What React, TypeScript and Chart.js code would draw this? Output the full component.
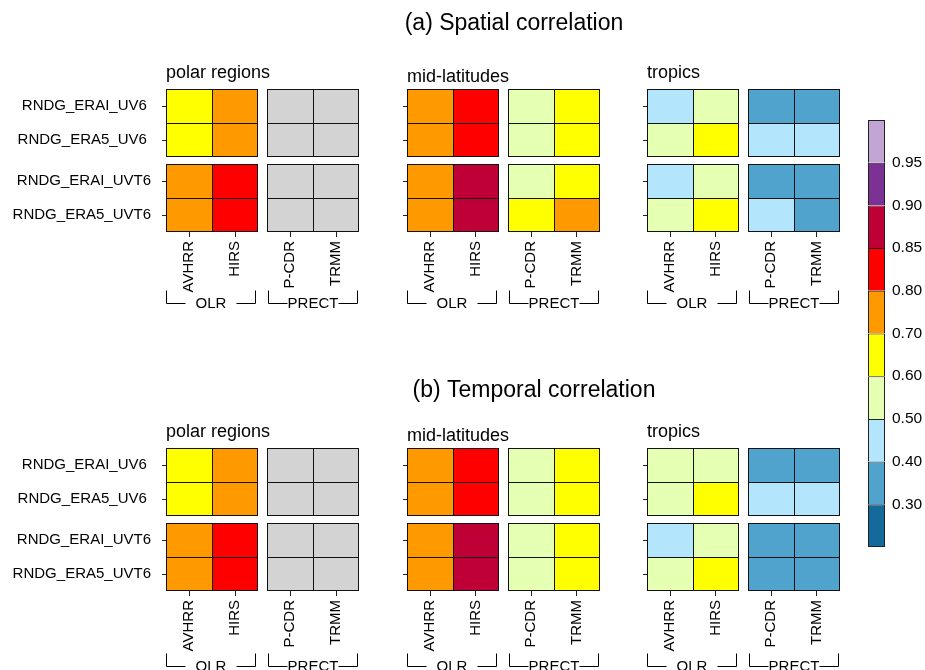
import React, { useEffect, useRef } from 'react';
import { Chart, registerables } from 'chart.js';

Chart.register(...registerables);

const FONT = "'Liberation Sans', Arial, Helvetica, sans-serif";

// ---------------- data ----------------
const rowLabels = ['RNDG_ERAI_UV6 ', 'RNDG_ERA5_UV6 ', 'RNDG_ERAI_UVT6', 'RNDG_ERA5_UVT6'];
const colLabels = ['AVHRR', 'HIRS', 'P-CDR', 'TRMM'];
const groupLabels = ['OLR', 'PRECT'];
const groupColumns = [[0, 1], [2, 3]];
const regionNames = ['polar regions', 'mid-latitudes', 'tropics'];
const figureTitles = ['(a) Spatial correlation', '(b) Temporal correlation'];

const colorBreaks = [0.3, 0.4, 0.5, 0.6, 0.7, 0.8, 0.85, 0.9, 0.95];
const colorPalette = ['#146b9b', '#4fa3cc', '#b3e5fd', '#e5ffb3', '#ffff00', '#ff9900', '#ff0000', '#be0037', '#7b3294', '#c2a5d4'];
const missingColor = '#d3d3d3';

const spatialPolar = [
  [0.66, 0.76, null, null],
  [0.65, 0.75, null, null],
  [0.74, 0.82, null, null],
  [0.73, 0.82, null, null],
];
const spatialMid = [
  [0.76, 0.83, 0.56, 0.65],
  [0.75, 0.83, 0.55, 0.64],
  [0.75, 0.87, 0.56, 0.65],
  [0.74, 0.87, 0.63, 0.71],
];
const spatialTropics = [
  [0.46, 0.55, 0.36, 0.37],
  [0.54, 0.63, 0.44, 0.44],
  [0.46, 0.55, 0.37, 0.38],
  [0.54, 0.63, 0.45, 0.39],
];
const temporalPolar = [
  [0.64, 0.74, null, null],
  [0.63, 0.73, null, null],
  [0.73, 0.81, null, null],
  [0.72, 0.81, null, null],
];
const temporalMid = [
  [0.75, 0.82, 0.55, 0.63],
  [0.75, 0.82, 0.55, 0.63],
  [0.74, 0.86, 0.56, 0.64],
  [0.74, 0.86, 0.56, 0.64],
];
const temporalTropics = [
  [0.52, 0.54, 0.35, 0.36],
  [0.53, 0.61, 0.44, 0.43],
  [0.46, 0.54, 0.36, 0.37],
  [0.52, 0.61, 0.37, 0.38],
];

const figureData = [
  [spatialPolar, spatialMid, spatialTropics],
  [temporalPolar, temporalMid, temporalTropics],
];

// ---------------- layout ----------------
const CELL_X = 46;
const GAP_X = 9;
const CELL_Y = 34;
const GAP_Y = 7;
const GX = GAP_X / CELL_X;
const GY = GAP_Y / CELL_Y;
const X_MAX = 4 + GX;
const Y_MAX = 4 + GY;
const AREA_W = 4 * CELL_X + GAP_X;
const AREA_H = 4 * CELL_Y + GAP_Y;
const AREA_LEFTS = [166, 407, 647];
const AREA_TOPS = [89, 448];
const PAD_TOP = 89;
const X_AXIS_H = 85;
const SUBTITLE_DROP = [11.5, 7, 11.5];
const TITLE_CX = [514, 534];
const TITLE_BASE = [29.5, 396.5];
const BRACKET_TOP = [58, 62];
const BRACKET_LINE = [71, 75];

const colStart = (c: number) => c + (c >= 2 ? GX : 0);
const rowStart = (r: number) => r + (r >= 2 ? GY : 0);

function colorFor(v: any) {
  if (v === null || v === undefined) return missingColor;
  let i = 0;
  while (i < colorBreaks.length && v >= colorBreaks[i]) i++;
  return colorPalette[i];
}

function Panel({ row, col }: { row: number; col: number }) {
  const ref = useRef<HTMLCanvasElement>(null);
  const values = figureData[row][col];
  const yW = col === 0 ? 166 : 40;
  const padRight = col === 1 ? 80 : 14;
  const left = AREA_LEFTS[col] - yW;
  const top = AREA_TOPS[row] - PAD_TOP;
  const w = yW + AREA_W + padRight;
  const h = PAD_TOP + AREA_H + X_AXIS_H;

  useEffect(() => {
    if (!ref.current) return;
    const datasets = colLabels.map((name, c) => ({
      label: name,
      data: rowLabels.map((_, r) => ({ x: [colStart(c), colStart(c) + 1], y: rowStart(r) + 0.5 })),
      backgroundColor: (ctx: any) =>
        ctx.dataIndex === undefined ? missingColor : colorFor(values[ctx.dataIndex][c]),
      borderColor: '#111',
      borderWidth: (ctx: any) => ({
        left: 1,
        top: 1,
        right: c % 2 === 1 ? 1 : 0,
        bottom: ctx.dataIndex % 2 === 1 ? 1 : 0,
      }),
      borderSkipped: false,
      inflateAmount: 0,
      barPercentage: 1,
      categoryPercentage: 1,
      grouped: false,
    }));

    const decor = {
      id: 'panelDecor',
      afterDraw(chart: any) {
        const { ctx, chartArea } = chart;
        const xs = chart.scales.x;
        ctx.save();
        ctx.fillStyle = '#000';
        ctx.strokeStyle = '#000';
        ctx.lineWidth = 1;
        // region subtitle
        ctx.font = `18px ${FONT}`;
        ctx.textAlign = 'left';
        ctx.textBaseline = 'alphabetic';
        ctx.fillText(regionNames[col], chartArea.left, chartArea.top - SUBTITLE_DROP[col]);
        // group brackets
        const yTop = Math.round(chartArea.bottom + BRACKET_TOP[row]) + 0.5;
        const yLine = Math.round(chartArea.bottom + BRACKET_LINE[row]) + 0.5;
        const insets = [[0, 2.5], [1, 1]];
        ctx.font = `15px ${FONT}`;
        ctx.textAlign = 'center';
        ctx.textBaseline = 'middle';
        groupLabels.forEach((g, gi) => {
          const [c0, c1] = groupColumns[gi];
          const x0 = Math.round(xs.getPixelForValue(colStart(c0)) + insets[gi][0]) + 0.5;
          const x1 = Math.round(xs.getPixelForValue(colStart(c1) + 1) - insets[gi][1]) - 0.5;
          ctx.beginPath();
          ctx.moveTo(x0, yTop);
          ctx.lineTo(x0, yLine);
          ctx.lineTo(x0 + 19, yLine);
          ctx.moveTo(x1 - 19, yLine);
          ctx.lineTo(x1, yLine);
          ctx.lineTo(x1, yTop);
          ctx.stroke();
          ctx.fillText(g, (x0 + x1) / 2, yLine);
        });
        // figure title on the middle panel
        if (col === 1) {
          ctx.font = `23px ${FONT}`;
          ctx.textAlign = 'center';
          ctx.textBaseline = 'alphabetic';
          ctx.fillText(figureTitles[row], TITLE_CX[row] - left, TITLE_BASE[row] - top);
        }
        ctx.restore();
      },
    };

    const chart = new Chart(ref.current, {
      type: 'bar',
      data: { datasets } as any,
      options: {
        indexAxis: 'y',
        animation: false,
        responsive: false,
        events: [],
        layout: { padding: { top: PAD_TOP, right: padRight, left: 0, bottom: 0 } },
        plugins: { legend: { display: false }, tooltip: { enabled: false }, title: { display: false } },
        scales: {
          x: {
            type: 'linear',
            position: 'bottom',
            offset: false,
            min: 0,
            max: X_MAX,
            afterBuildTicks: (s: any) => {
              s.ticks = colLabels.map((_, c) => ({ value: colStart(c) + 0.5 }));
            },
            afterFit: (s: any) => {
              s.height = X_AXIS_H;
              s.paddingLeft = 0;
              s.paddingRight = 0;
            },
            ticks: {
              autoSkip: false,
              minRotation: 90,
              maxRotation: 90,
              padding: 4,
              color: '#000',
              font: { family: FONT, size: 15 },
              callback: (_v: any, i: number) => colLabels[i],
            },
            grid: { offset: false, drawOnChartArea: false, drawTicks: true, tickLength: 5, color: '#222', lineWidth: 1 },
            border: { display: false },
          },
          y: {
            type: 'linear',
            position: 'left',
            offset: false,
            min: 0,
            max: Y_MAX,
            reverse: true,
            afterBuildTicks: (s: any) => {
              s.ticks = rowLabels.map((_, r) => ({ value: rowStart(r) + 0.5 }));
            },
            afterFit: (s: any) => {
              s.width = yW;
              s.paddingTop = 0;
              s.paddingBottom = 0;
            },
            ticks: {
              display: col === 0,
              autoSkip: false,
              padding: 11,
              color: '#000',
              font: { family: FONT, size: 15 },
              callback: (_v: any, i: number) => rowLabels[i],
            },
            grid: { offset: false, drawOnChartArea: false, drawTicks: true, tickLength: 4, color: '#222', lineWidth: 1 },
            border: { display: false },
          },
        },
      } as any,
      plugins: [decor],
    });
    return () => chart.destroy();
  }, [row, col]);

  return (
    <canvas
      ref={ref}
      width={w}
      height={h}
      style={{ position: 'absolute', left, top, width: w, height: h }}
    />
  );
}

function ColorBar() {
  const ref = useRef<HTMLCanvasElement>(null);
  const left = 868;
  const top = 120;
  const barW = 17;
  const labelW = 57;
  const w = barW + labelW;
  const h = 427;

  useEffect(() => {
    if (!ref.current) return;
    const datasets = colorPalette.map((col, i) => ({
      label: String(i),
      data: [1],
      backgroundColor: col,
      borderColor: '#222',
      borderWidth: { left: 1, right: 1, top: 1, bottom: i === 0 ? 1 : 0 },
      borderSkipped: false,
      inflateAmount: 0,
      barPercentage: 1,
      categoryPercentage: 1,
    }));
    const chart = new Chart(ref.current, {
      type: 'bar',
      data: { labels: [''], datasets } as any,
      options: {
        animation: false,
        responsive: false,
        events: [],
        layout: { padding: 0 },
        plugins: { legend: { display: false }, tooltip: { enabled: false } },
        scales: {
          x: { type: 'category', stacked: true, display: false },
          y: {
            type: 'linear',
            stacked: true,
            position: 'right',
            min: 0,
            max: colorPalette.length,
            afterBuildTicks: (s: any) => {
              s.ticks = colorBreaks.map((_, i) => ({ value: i + 1 }));
            },
            afterFit: (s: any) => {
              s.width = labelW;
              s.paddingTop = 0;
              s.paddingBottom = 0;
            },
            ticks: {
              autoSkip: false,
              padding: 7,
              color: '#000',
              font: { family: FONT, size: 15.5 },
              callback: (_v: any, i: number) => colorBreaks[i].toFixed(2),
            },
            grid: { display: false, drawTicks: false },
            border: { display: false },
          },
        },
      } as any,
    });
    return () => chart.destroy();
  }, []);

  return (
    <canvas
      ref={ref}
      width={w}
      height={h}
      style={{ position: 'absolute', left, top, width: w, height: h }}
    />
  );
}

export default function App() {
  return (
    <div
      style={{
        position: 'absolute',
        left: 0,
        top: 0,
        width: 925,
        height: 670,
        overflow: 'hidden',
        background: '#fff',
      }}
    >
      {[0, 1].map((row) =>
        [0, 1, 2].map((col) => <Panel key={`${row}-${col}`} row={row} col={col} />)
      )}
      <ColorBar />
    </div>
  );
}
